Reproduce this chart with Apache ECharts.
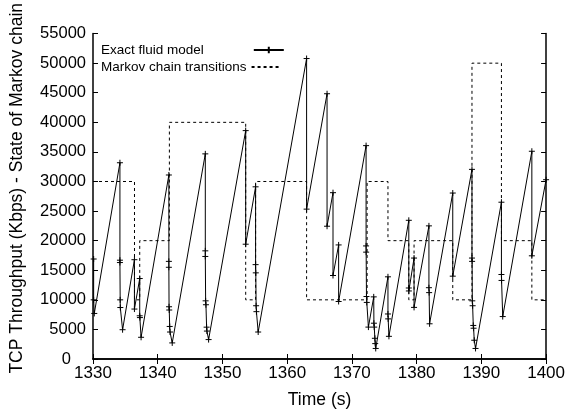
<!DOCTYPE html>
<html><head><meta charset="utf-8">
<script src="https://cdn.jsdelivr.net/npm/echarts@6/dist/echarts.min.js"></script>
<style>html,body{margin:0;padding:0;background:#fff}#c{width:568px;height:416px}</style>
</head><body><div id="c"></div>
<script>
// Exact fluid model: time (s)
const fluidT = [1330.1,1330.1,1330.2,
 1334.16,1334.16,1334.16,1334.2,1334.22,1334.57,
 1336.4,1336.4,
 1337.22,1337.22,1337.25,1337.43,
 1341.72,1341.72,1341.72,1341.75,1341.78,1341.85,1341.9,1342.24,
 1347.35,1347.35,1347.35,1347.4,1347.45,1347.55,1347.6,1347.86,
 1353.59,1353.59,
 1355.12,1355.12,1355.15,1355.2,1355.25,1355.52,
 1363.0,1363.0,
 1366.16,1366.16,
 1367.08,1367.08,
 1367.95,1367.95,
 1372.19,1372.19,1372.2,1372.25,1372.3,1372.55,
 1373.37,1373.4,1373.45,1373.55,1373.6,1373.68,
 1375.57,1375.57,1375.6,1375.72,
 1378.79,1378.79,1378.8,
 1379.6,1379.6,
 1381.9,1381.9,1381.93,1382.0,
 1385.58,1385.58,
 1388.55,1388.55,1388.57,1388.6,1388.65,1388.75,1388.8,1388.9,1389.1,
 1393.1,1393.1,1393.12,1393.3,
 1397.8,1397.8,
 1400];
// Exact fluid model: throughput (Kbps)
const fluidV = [16900,10000,7700,
 33170,16700,16300,10000,8700,4950,
 16780,8440,
 13600,7300,7000,3670,
 31100,16500,15500,8830,8280,5500,4560,2720,
 34670,18280,17330,9830,9170,5380,4720,3280,
 38600,19400,
 29100,15950,14560,9000,8000,4560,
 50780,25330,
 44830,22440,
 28110,14110,
 19280,9720,
 36060,19110,18060,10560,9560,5390,
 10500,6050,5390,3500,2600,1780,
 13890,7610,6780,3830,
 23440,12000,11500,
 17060,8720,
 22500,12050,11220,5950,
 28050,14000,
 32050,17060,16500,9830,9000,5670,5200,3170,1780,
 26500,14280,13280,7170,
 35110,17440,
 30300];
// Markov chain transitions: change times and states
const markovT = [1330,1336.41,1337.22,1341.8,1353.59,1355.12,1363.0,1372.35,1375.57,1378.79,1379.6,1385.58,1388.55,1393.1,1397.8,1400];
const markovV = [30000,10000,20000,40000,10000,30000,10000,30000,20000,10000,20000,10000,50000,20000,10000,10000];
// Axis ticks
const xTicks = {min:1330, max:1400, step:10};
const yTicks = {min:0, max:55000, step:5000};

const FONT = '"Liberation Sans", Arial, Helvetica, sans-serif';
const chart = echarts.init(document.getElementById('c'), null, {renderer:'canvas'});
const plus = 'path://M0,5L10,5M5,0L5,10';
const lineAx = {lineStyle:{color:'#000', width:1.5}};
const tickAx = {inside:true, length:5, lineStyle:{color:'#000', width:1}};
const plain = v => String(v);
const yFmt = v => v === 0 ? '{z|0}' : String(v);
const legendText = {fontFamily:FONT, fontSize:13.5, color:'#000'};
chart.setOption({
  animation:false,
  backgroundColor:'#fff',
  grid:{left:92, right:20, top:29, bottom:57},
  legend:[
    {data:['Exact fluid model'], left:96, top:38, orient:'vertical', align:'right', itemWidth:30, itemHeight:8,
     textStyle:{...legendText, padding:[0,45,0,0]}, selectedMode:false},
    {data:[{name:'Markov chain transitions', itemStyle:{opacity:0}}], left:96, top:55, orient:'vertical', align:'right', itemWidth:30, itemHeight:8,
     textStyle:legendText, selectedMode:false}
  ],
  xAxis:[
    {type:'value', min:xTicks.min, max:xTicks.max, interval:xTicks.step, position:'bottom',
     axisLine:lineAx, axisTick:tickAx, splitLine:{show:false},
     axisLabel:{color:'#000', fontFamily:FONT, fontSize:17, margin:6, formatter:plain},
     name:'Time (s)', nameLocation:'middle', nameGap:32,
     nameTextStyle:{color:'#000', fontFamily:FONT, fontSize:17.5}},
    {type:'value', min:xTicks.min, max:xTicks.max, interval:xTicks.step, position:'top',
     axisLine:lineAx, axisTick:tickAx, splitLine:{show:false}, axisLabel:{show:false}}
  ],
  yAxis:[
    {type:'value', min:yTicks.min, max:yTicks.max, interval:yTicks.step, position:'left',
     axisLine:{show:true, ...lineAx}, axisTick:{show:true, ...tickAx}, splitLine:{show:false},
     axisLabel:{color:'#000', fontFamily:FONT, fontSize:16.5, margin:7, formatter:yFmt,
       rich:{z:{fontFamily:FONT, fontSize:16.5, color:'#000', padding:[0,15,0,0]}}},
     name:'{s| }TCP Throughput (Kbps) - State of Markov chain', nameLocation:'middle', nameGap:67,
     nameTextStyle:{color:'#000', fontFamily:FONT, fontSize:17.5, rich:{s:{width:16, fontSize:17.5}}}},
    {type:'value', min:yTicks.min, max:yTicks.max, interval:yTicks.step, position:'right',
     axisLine:{show:true, ...lineAx}, axisTick:{show:true, ...tickAx}, splitLine:{show:false}, axisLabel:{show:false}}
  ],
  series:[
    {name:'Exact fluid model', type:'line', xAxisIndex:0, yAxisIndex:0,
     data: fluidT.map((t,i)=>[t, fluidV[i]]),
     symbol:plus, symbolSize:6, showAllSymbol:true,
     itemStyle:{color:'#000', borderColor:'#000', borderWidth:1},
     lineStyle:{color:'#000', width:1}, z:3},
    {name:'Markov chain transitions', type:'line', xAxisIndex:0, yAxisIndex:0,
     data: markovT.map((t,i)=>[t, markovV[i]]), step:'end', showSymbol:false, symbol:'none',
     itemStyle:{color:'#000'},
     lineStyle:{color:'#000', width:1, type:[3,3]}, z:2}
  ]
});
</script></body></html>
